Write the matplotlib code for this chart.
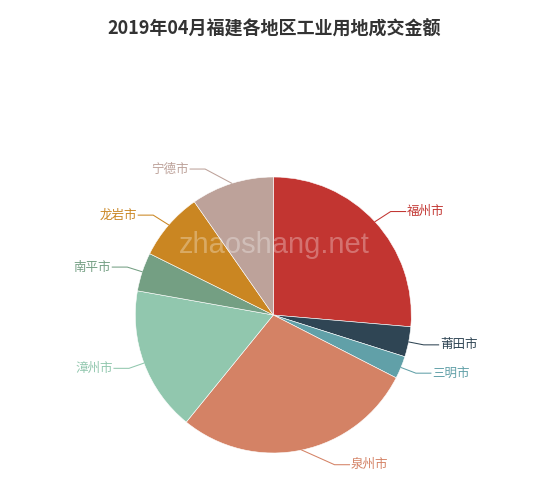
import numpy as np
import matplotlib
matplotlib.use('Agg')
import matplotlib.pyplot as plt

plt.rcParams['font.family'] = ['Noto Sans CJK SC', 'DejaVu Sans']

# Data (share of transaction amount)
cities = ['福州市', '莆田市', '三明市', '泉州市', '漳州市', '南平市', '龙岩市', '宁德市']
values = [94.9, 12.7, 9.5, 102.0, 61.0, 16.3, 28.7, 34.9]
colors = ['#c23531', '#2f4554', '#61a0a8', '#d48265',
          '#91c7ae', '#749f83', '#ca8622', '#bda29a']
title = '2019年04月福建各地区工业用地成交金额'

# Layout in pixels (y up)
W, H = 550, 490
cx, cy, r = 273.3, 490 - 315, 138
len1, len2 = 15, 15

fig = plt.figure(figsize=(W / 100, H / 100), dpi=100)
ax = fig.add_axes([0, 0, 1, 1])

ax.pie(values, colors=colors, center=(cx, cy), radius=r, startangle=90,
       counterclock=False, wedgeprops=dict(edgecolor='white', linewidth=0.4))

# labels with leader lines (echarts-like layout)
total = sum(values)
start = 0.0
for name, v, c in zip(cities, values, colors):
    mid = (start + v / 2) / total * 2 * np.pi  # clockwise from top
    start += v
    sx, sy = cx + r * np.sin(mid), cy + r * np.cos(mid)
    ly = cy + (r + len1) * np.cos(mid)
    dy = abs(ly - cy)
    side = 1 if np.sin(mid) >= 0 else -1
    dx = np.sqrt((r + len1 + len2) ** 2 - dy ** 2)
    lx = cx + side * dx
    ex = lx - side * len2
    ax.plot([sx, ex, lx], [sy, ly, ly], color=c, lw=0.75,
            solid_joinstyle='miter')
    ax.text(lx + side * 1.5, ly, name, color=c, fontsize=9,
            ha='left' if side > 0 else 'right', va='center')

# watermark
ax.text(274, 490 - 252.7, 'zhaoshang.net', fontsize=21, family='Liberation Sans',
        color='white', alpha=0.3, ha='center', va='baseline')

ax.text(274, 490 - 29.5, title, fontsize=13, fontweight='bold',
        color='#333333', ha='center', va='center')

ax.set_xlim(0, W)
ax.set_ylim(0, H)
ax.set_aspect('auto')
ax.axis('off')

fig.savefig('out.png', dpi=100)
